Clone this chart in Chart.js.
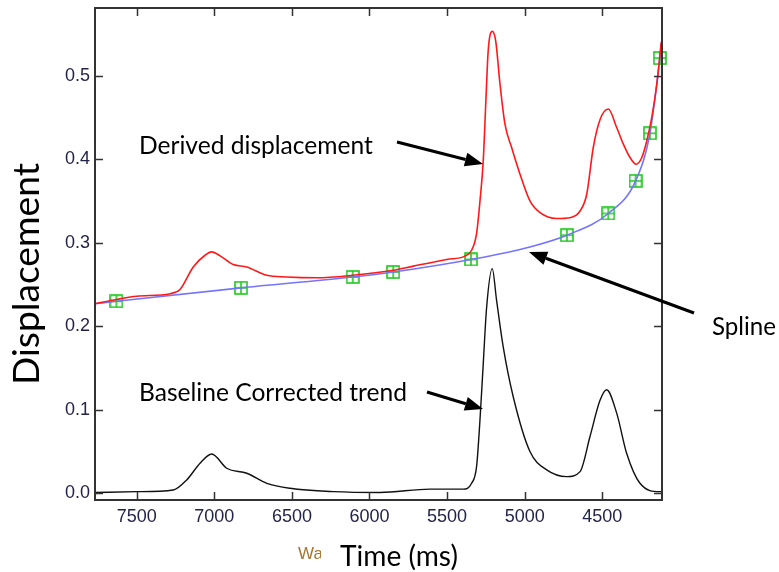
<!DOCTYPE html>
<html>
<head>
<meta charset="utf-8">
<script src="https://cdn.jsdelivr.net/npm/chart.js@4.4.1/dist/chart.umd.min.js"></script>
<style>
  html, body { margin: 0; padding: 0; background: #fff; }
  #wrap { width: 779px; height: 572px; }
</style>
</head>
<body>
<div id="wrap"><canvas id="c" width="779" height="572"></canvas></div>
<script>
// Werte (x = Zeit in ms, y = Verschiebung)
const derivedX = [7769, 7631, 7500, 7285, 7221, 7136, 7060, 7017, 6960, 6878, 6791, 6662, 6534, 6340, 6108, 5847, 5718, 5503, 5385, 5342, 5310, 5288, 5267, 5250, 5235, 5209, 5187, 5159, 5127, 5084, 5030, 4966, 4901, 4794, 4708, 4643, 4600, 4558, 4515, 4461, 4407, 4364, 4321, 4282, 4245, 4213, 4181, 4148, 4120];
const derivedY = [0.227, 0.232, 0.236, 0.239, 0.244, 0.271, 0.285, 0.289, 0.284, 0.274, 0.271, 0.261, 0.259, 0.258, 0.261, 0.267, 0.272, 0.280, 0.284, 0.291, 0.311, 0.350, 0.398, 0.470, 0.530, 0.553, 0.542, 0.490, 0.442, 0.414, 0.382, 0.350, 0.336, 0.329, 0.330, 0.338, 0.358, 0.414, 0.447, 0.460, 0.438, 0.418, 0.402, 0.394, 0.402, 0.422, 0.450, 0.490, 0.540];

const splineX = [7769, 7631, 6828, 6108, 5847, 5346, 4966, 4728, 4461, 4285, 4193, 4129, 4115];
const splineY = [0.227, 0.230, 0.246, 0.259, 0.265, 0.280, 0.295, 0.309, 0.335, 0.374, 0.431, 0.521, 0.545];

const knotX = [7631, 6828, 6108, 5847, 5346, 4728, 4461, 4285, 4193, 4129];
const knotY = [0.230, 0.246, 0.259, 0.265, 0.280, 0.309, 0.335, 0.374, 0.431, 0.521];

const trendX = [7769, 7500, 7264, 7178, 7092, 7017, 6920, 6791, 6662, 6512, 6233, 5932, 5610, 5396, 5342, 5310, 5288, 5267, 5245, 5209, 5181, 5138, 5073, 4966, 4858, 4729, 4643, 4579, 4515, 4472, 4407, 4343, 4257, 4129, 4115];
const trendY = [0.001, 0.002, 0.004, 0.016, 0.036, 0.047, 0.030, 0.024, 0.012, 0.006, 0.002, 0.001, 0.005, 0.005, 0.012, 0.032, 0.088, 0.155, 0.223, 0.269, 0.231, 0.175, 0.115, 0.050, 0.028, 0.020, 0.026, 0.068, 0.111, 0.124, 0.096, 0.048, 0.012, 0.002, 0.002];

const xTicks = [7500, 7000, 6500, 6000, 5500, 5000, 4500];
const yTicks = [0.0, 0.1, 0.2, 0.3, 0.4, 0.5];

const xMin = 4115, xMax = 7769;
const yMin = -0.008, yMax = 0.581;

function pts(xs, ys) {
    return xs.map((x, i) => ({ x: x, y: ys[i] }));
}

// Marker: Quadrat mit Kreuz
function makeKnot() {
    const c = document.createElement('canvas');
    c.width = 14; c.height = 14;
    const g = c.getContext('2d');
    g.strokeStyle = '#1ec81e';
    g.lineWidth = 1.6;
    g.strokeRect(1, 1, 12, 12);
    g.beginPath();
    g.moveTo(7, 1); g.lineTo(7, 13);
    g.moveTo(1, 7); g.lineTo(13, 7);
    g.stroke();
    return c;
}

// Text auf eine bestimmte Breite bringen
function fitText(ctx, text, left, midY, width, family, color) {
    ctx.font = '20px ' + family;
    const size = 20 * width / ctx.measureText(text).width;
    ctx.font = size.toFixed(2) + 'px ' + family;
    ctx.fillStyle = color;
    ctx.textAlign = 'left';
    ctx.textBaseline = 'middle';
    ctx.fillText(text, left, midY);
}

function arrow(ctx, x1, y1, x2, y2, head, half) {
    const a = Math.atan2(y2 - y1, x2 - x1);
    const bx = x2 - head * Math.cos(a), by = y2 - head * Math.sin(a);
    ctx.strokeStyle = '#000';
    ctx.fillStyle = '#000';
    ctx.lineWidth = 3;
    ctx.beginPath();
    ctx.moveTo(x1, y1);
    ctx.lineTo(bx, by);
    ctx.stroke();
    ctx.beginPath();
    ctx.moveTo(x2, y2);
    ctx.lineTo(bx + half * Math.sin(a), by - half * Math.cos(a));
    ctx.lineTo(bx - half * Math.sin(a), by + half * Math.cos(a));
    ctx.closePath();
    ctx.fill();
}

const framePlugin = {
    id: 'frame',
    afterDraw(chart) {
        const ctx = chart.ctx;
        const a = chart.chartArea;
        const xs = chart.scales.x, ys = chart.scales.y;
        ctx.save();
        // Rahmen
        ctx.strokeStyle = '#333';
        ctx.lineWidth = 2;
        ctx.strokeRect(a.left, a.top, a.right - a.left, a.bottom - a.top);
        // Striche nach innen, alle vier Seiten
        ctx.lineWidth = 1.5;
        ctx.beginPath();
        xTicks.forEach(v => {
            const px = Math.round(xs.getPixelForValue(v)) + 0.5;
            ctx.moveTo(px, a.bottom); ctx.lineTo(px, a.bottom - 8);
            ctx.moveTo(px, a.top); ctx.lineTo(px, a.top + 8);
        });
        yTicks.forEach(v => {
            const py = Math.round(ys.getPixelForValue(v)) + 0.5;
            ctx.moveTo(a.left, py); ctx.lineTo(a.left + 8, py);
            ctx.moveTo(a.right, py); ctx.lineTo(a.right - 8, py);
        });
        ctx.stroke();

        // Achsentitel
        ctx.save();
        ctx.translate(27, 274);
        ctx.rotate(-Math.PI / 2);
        fitText(ctx, 'Displacement', -111, 0, 222, 'Lato', '#000');
        ctx.restore();

        ctx.save();
        ctx.beginPath();
        ctx.rect(290, 535, 31, 30);
        ctx.clip();
        ctx.font = '17px "Liberation Sans"';
        ctx.fillStyle = '#a8742e';
        ctx.textAlign = 'left';
        ctx.textBaseline = 'middle';
        ctx.fillText('Wavelength', 298, 554);
        ctx.restore();
        fitText(ctx, 'Time (ms)', 340, 557, 118, 'Lato', '#000');

        // Beschriftungen mit Pfeilen
        fitText(ctx, 'Derived displacement', 139, 146, 234, 'Lato', '#000');
        fitText(ctx, 'Baseline Corrected trend', 139, 393, 268, 'Lato', '#000');
        fitText(ctx, 'Spline', 712, 327, 64, 'Lato', '#000');
        arrow(ctx, 397, 142, 483, 164, 18, 7);
        arrow(ctx, 427, 392, 483, 409, 18, 7);
        arrow(ctx, 694, 313, 529, 252, 18, 7);
        ctx.restore();
    }
};

const tickFont = { family: '"Liberation Sans", Arial, sans-serif', size: 18 };
const tickColor = '#24244a';

new Chart(document.getElementById('c'), {
    type: 'line',
    data: {
        datasets: [
            {
                label: 'Derived displacement',
                data: pts(derivedX, derivedY),
                borderColor: '#ff1a1a',
                borderWidth: 1.6,
                pointRadius: 0,
                cubicInterpolationMode: 'monotone',
                fill: false
            },
            {
                label: 'Spline',
                data: pts(splineX, splineY),
                borderColor: '#7474ff',
                borderWidth: 1.6,
                pointRadius: 0,
                cubicInterpolationMode: 'monotone',
                fill: false
            },
            {
                label: 'Knots',
                data: pts(knotX, knotY),
                showLine: false,
                pointStyle: makeKnot(),
                pointRadius: 7,
                clip: false
            },
            {
                label: 'Baseline Corrected trend',
                data: pts(trendX, trendY),
                borderColor: '#111',
                borderWidth: 1.4,
                pointRadius: 0,
                cubicInterpolationMode: 'monotone',
                fill: false
            }
        ]
    },
    options: {
        responsive: false,
        animation: false,
        events: [],
        layout: { padding: { left: 0, top: 7, right: 117, bottom: 0 } },
        plugins: { legend: { display: false }, tooltip: { enabled: false } },
        scales: {
            x: {
                type: 'linear',
                reverse: true,
                min: xMin,
                max: xMax,
                afterBuildTicks: s => { s.ticks = xTicks.map(v => ({ value: v })); },
                afterFit: s => { s.height = 72; s.paddingLeft = 0; s.paddingRight = 0; },
                grid: { display: false, drawTicks: false },
                border: { display: false },
                ticks: {
                    font: tickFont,
                    color: tickColor,
                    padding: 6,
                    maxRotation: 0,
                    callback: v => String(v)
                }
            },
            y: {
                type: 'linear',
                min: yMin,
                max: yMax,
                afterBuildTicks: s => { s.ticks = yTicks.map(v => ({ value: v })); },
                afterFit: s => { s.width = 95; s.paddingTop = 0; s.paddingBottom = 0; },
                grid: { display: false, drawTicks: false },
                border: { display: false },
                ticks: {
                    font: tickFont,
                    color: tickColor,
                    padding: 5,
                    callback: v => v.toFixed(1)
                }
            }
        }
    },
    plugins: [framePlugin]
});
</script>
</body>
</html>
